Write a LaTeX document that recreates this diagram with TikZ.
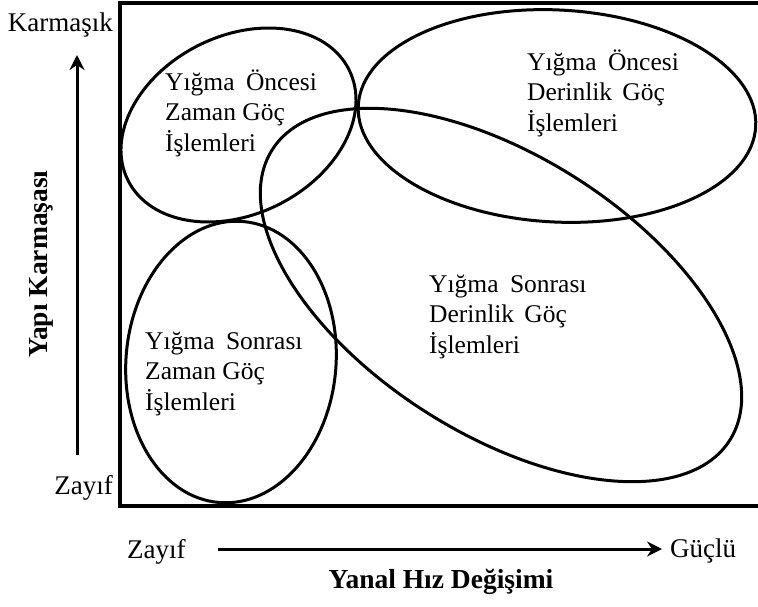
\documentclass[tikz,border=0pt]{standalone}
\usepackage{fontspec}
\setmainfont{Liberation Serif}
\usetikzlibrary{arrows.meta}
\begin{document}
\begin{tikzpicture}[x=1pt,y=-1pt,
  ell/.style={line width=3pt},
  frame/.style={line width=3.5pt},
  axisarrow/.style={line width=3pt,-{Stealth[length=15pt,width=15pt,inset=5pt]}},
  blocktext/.style={anchor=base west,inner sep=0pt,align=left,font=\fontsize{25.5}{30.5}\selectfont},
  lbl/.style={inner sep=0pt,font=\fontsize{27}{30}\selectfont},
  title/.style={inner sep=0pt,font=\fontsize{27.5}{30}\selectfont\bfseries}]
\useasboundingbox (0,0) rectangle (758,606);
% frame
\coordinate (ftr) at (758,3);
\coordinate (ftl) at (120,3);
\coordinate (fbl) at (120,506);
\coordinate (fbr) at (758,506);
\draw[frame] (ftr) -- (ftl) -- (fbl) -- (fbr);
% ellipses
\coordinate (c1) at (238.5,125);
\coordinate (c2) at (557,116);
\coordinate (c3) at (501,295);
\coordinate (c4) at (231,362);
\draw[ell,rotate around={26.6:(c1)}] (c1) ellipse [x radius=123.6pt, y radius=89.1pt];
\draw[ell,rotate around={-3:(c2)}] (c2) ellipse [x radius=199pt, y radius=106pt];
\draw[ell,rotate around={-32.4:(c3)}] (c3) ellipse [x radius=271pt, y radius=139pt];
\draw[ell,rotate around={-5:(c4)}] (c4) ellipse [x radius=105pt, y radius=141pt];
% texts in ellipses (base anchor = baseline of last line)
\node[blocktext] (t1) at (165,151) {Yığma\hspace{0.45em}Öncesi\\Zaman Göç\\İşlemleri};
\node[blocktext] (t2) at (527,131) {Yığma\hspace{0.45em}Öncesi\\Derinlik\hspace{0.4em}Göç\\İşlemleri};
\node[blocktext] (t3) at (429,353) {Yığma\hspace{0.45em}Sonrası\\Derinlik\hspace{0.4em}Göç\\İşlemleri};
\node[blocktext] (t4) at (145,410) {Yığma\hspace{0.45em}Sonrası\\Zaman Göç\\İşlemleri};
% axes
\coordinate (vs) at (77,455);
\coordinate (ve) at (77,55);
\draw[axisarrow] (vs) -- (ve);
\coordinate (hs) at (218,549);
\coordinate (he) at (662,549);
\draw[axisarrow] (hs) -- (he);
\node[lbl,anchor=base east] (karm) at (113,31) {Karmaşık};
\node[lbl,anchor=base east] (zl) at (113,494) {Zayıf};
\node[lbl,anchor=base west] (zb) at (127,558) {Zayıf};
\node[lbl,anchor=base west] (gu) at (670,557) {Güçlü};
\node[title,rotate=90] (yk) at (41,264) {Yapı Karmaşası};
\node[title] (yh) at (441,582) {Yanal Hız Değişimi};
\end{tikzpicture}
\end{document}
